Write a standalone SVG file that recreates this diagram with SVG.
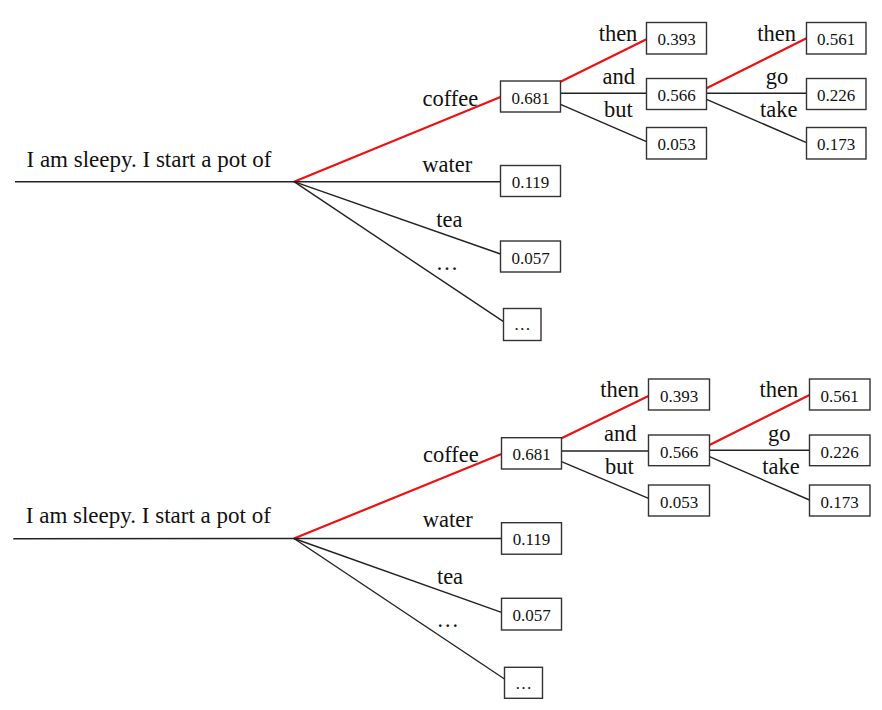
<svg xmlns="http://www.w3.org/2000/svg" width="882" height="710" viewBox="0 0 882 710">
<style>
  .bg { fill: #ffffff; }
  .box { fill: #ffffff; stroke: #333333; stroke-width: 1.4; }
  .num { font-family: "Liberation Serif", "Times New Roman", serif; font-size: 17px; fill: #111111; text-anchor: middle; }
  .lbl { font-family: "Liberation Serif", "Times New Roman", serif; font-size: 22.5px; fill: #111111; text-anchor: middle; }
  .ctx { font-family: "Liberation Serif", "Times New Roman", serif; font-size: 23px; fill: #111111; text-anchor: middle; }
  .edge { stroke: #222222; stroke-width: 1.4; fill: none; }
  .hot { stroke: #ee1111; stroke-width: 2.2; fill: none; }
</style>
<rect class="bg" x="0" y="0" width="882" height="710"/>

<!-- ===== Top tree ===== -->
<g id="top-connectors">
  <line class="edge" x1="15" y1="181.7" x2="294" y2="181.7"/>
  <line class="hot" x1="294" y1="181.7" x2="500.5" y2="97"/>
  <line class="edge" x1="294" y1="181.7" x2="500.5" y2="181.7"/>
  <line class="edge" x1="294" y1="181.7" x2="500.5" y2="254"/>
  <line class="edge" x1="294" y1="181.7" x2="503.5" y2="321.7"/>
  <line class="hot" x1="560.5" y1="81.7" x2="646.5" y2="39.3"/>
  <line class="edge" x1="560.5" y1="93.3" x2="646.5" y2="93.3"/>
  <line class="edge" x1="560.5" y1="104.3" x2="646.5" y2="141.7"/>
  <line class="hot" x1="706.5" y1="88.3" x2="806.5" y2="38.3"/>
  <line class="edge" x1="706.5" y1="93.3" x2="806.5" y2="93.3"/>
  <line class="edge" x1="706.5" y1="99.3" x2="806.5" y2="142.7"/>
</g>
<g id="top-labels">
  <text class="lbl" x="450.4" y="106">coffee</text>
  <text class="lbl" x="447.2" y="171.5">water</text>
  <text class="lbl" x="449.3" y="226.5">tea</text>
  <text class="lbl" x="447" y="270">…</text>
  <text class="lbl" x="618" y="40.5">then</text>
  <text class="lbl" x="618.8" y="84">and</text>
  <text class="lbl" x="618.3" y="117">but</text>
  <text class="lbl" x="776.7" y="40.5">then</text>
  <text class="lbl" x="777" y="84">go</text>
  <text class="lbl" x="778.7" y="117">take</text>
</g>
<g id="top-root"><text class="ctx" x="149" y="166.5">I am sleepy. I start a pot of</text></g>
<g id="top-n681"><rect class="box" x="500.5" y="81" width="60" height="31"/><text class="num" x="530.5" y="103.5">0.681</text></g>
<g id="top-n119"><rect class="box" x="500.5" y="165.5" width="60" height="31"/><text class="num" x="530.5" y="188">0.119</text></g>
<g id="top-n057"><rect class="box" x="500.5" y="241" width="60" height="31"/><text class="num" x="530.5" y="263.5">0.057</text></g>
<g id="top-ndots"><rect class="box" x="503.5" y="308.5" width="37.5" height="32"/><text class="num" x="522.2" y="330">…</text></g>
<g id="top-n393"><rect class="box" x="646.5" y="22.5" width="60" height="31.5"/><text class="num" x="676.5" y="45">0.393</text></g>
<g id="top-n566"><rect class="box" x="646.5" y="78.5" width="60" height="31"/><text class="num" x="676.5" y="101">0.566</text></g>
<g id="top-n053"><rect class="box" x="646.5" y="127.5" width="60" height="31.5"/><text class="num" x="676.5" y="150">0.053</text></g>
<g id="top-n561"><rect class="box" x="806.5" y="22.5" width="59.5" height="31.5"/><text class="num" x="836.2" y="45">0.561</text></g>
<g id="top-n226"><rect class="box" x="806.5" y="78.5" width="59.5" height="31"/><text class="num" x="836.2" y="101">0.226</text></g>
<g id="top-n173"><rect class="box" x="806.5" y="127.5" width="59.5" height="31.5"/><text class="num" x="836.2" y="150">0.173</text></g>

<!-- ===== Bottom tree ===== -->
<g id="bottom-connectors">
  <line class="edge" x1="13.3" y1="538.7" x2="294" y2="538.5"/>
  <line class="hot" x1="294" y1="538.5" x2="501.5" y2="454"/>
  <line class="edge" x1="294" y1="538.5" x2="501.5" y2="538.5"/>
  <line class="edge" x1="294" y1="538.5" x2="501.5" y2="612.3"/>
  <line class="edge" x1="294" y1="538.5" x2="504.5" y2="679"/>
  <line class="hot" x1="561.5" y1="438.3" x2="648.5" y2="396"/>
  <line class="edge" x1="561.5" y1="451" x2="648.5" y2="451"/>
  <line class="edge" x1="561.5" y1="461.7" x2="648.5" y2="498.3"/>
  <line class="hot" x1="709.5" y1="445" x2="809.5" y2="395"/>
  <line class="edge" x1="709.5" y1="450.3" x2="809.5" y2="450.3"/>
  <line class="edge" x1="709.5" y1="456.7" x2="809.5" y2="500"/>
</g>
<g id="bottom-labels">
  <text class="lbl" x="450.8" y="461.7">coffee</text>
  <text class="lbl" x="447.7" y="527.3">water</text>
  <text class="lbl" x="450" y="584.3">tea</text>
  <text class="lbl" x="447.8" y="626.7">…</text>
  <text class="lbl" x="619.7" y="396.7">then</text>
  <text class="lbl" x="620.3" y="441">and</text>
  <text class="lbl" x="619.5" y="474.3">but</text>
  <text class="lbl" x="778.8" y="396.7">then</text>
  <text class="lbl" x="779.2" y="441">go</text>
  <text class="lbl" x="781" y="474.3">take</text>
</g>
<g id="bottom-root"><text class="ctx" x="148.3" y="523.3">I am sleepy. I start a pot of</text></g>
<g id="bottom-n681"><rect class="box" x="501.5" y="437.7" width="60" height="31.3"/><text class="num" x="531.5" y="460">0.681</text></g>
<g id="bottom-n119"><rect class="box" x="501.5" y="522.7" width="60" height="31.5"/><text class="num" x="531.5" y="545">0.119</text></g>
<g id="bottom-n057"><rect class="box" x="501.5" y="598.3" width="60" height="31.7"/><text class="num" x="531.5" y="620.5">0.057</text></g>
<g id="bottom-ndots"><rect class="box" x="504.5" y="667.3" width="38" height="31"/><text class="num" x="523.5" y="689">…</text></g>
<g id="bottom-n393"><rect class="box" x="648.5" y="379" width="61" height="31"/><text class="num" x="679" y="401.5">0.393</text></g>
<g id="bottom-n566"><rect class="box" x="648.5" y="435" width="61" height="30.7"/><text class="num" x="679" y="457.5">0.566</text></g>
<g id="bottom-n053"><rect class="box" x="648.5" y="485" width="61" height="31"/><text class="num" x="679" y="507.5">0.053</text></g>
<g id="bottom-n561"><rect class="box" x="809.5" y="379" width="60.5" height="31"/><text class="num" x="839.7" y="401.5">0.561</text></g>
<g id="bottom-n226"><rect class="box" x="809.5" y="435" width="60.5" height="30.7"/><text class="num" x="839.7" y="457.5">0.226</text></g>
<g id="bottom-n173"><rect class="box" x="809.5" y="485" width="60.5" height="31"/><text class="num" x="839.7" y="507.5">0.173</text></g>
</svg>
